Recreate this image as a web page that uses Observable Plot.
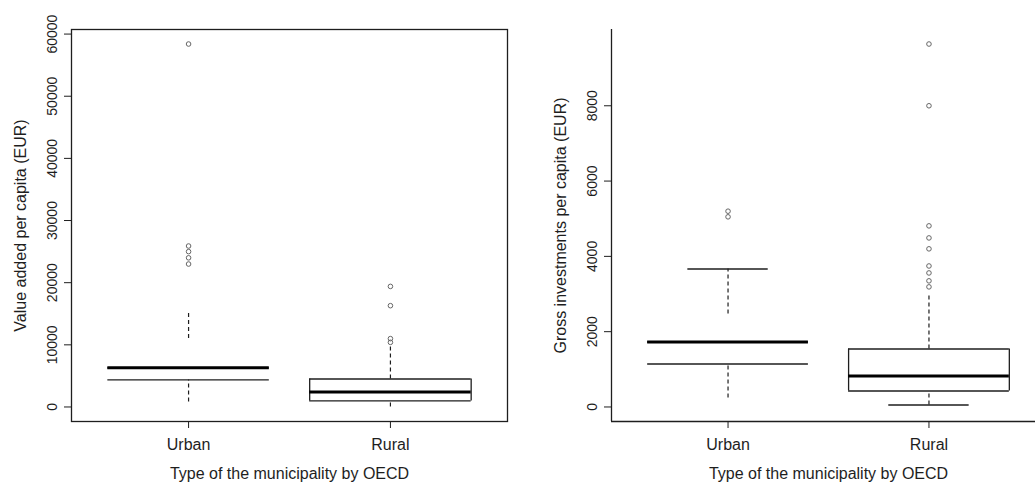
<!DOCTYPE html>
<html>
<head>
<meta charset="utf-8">
<script src="https://cdn.jsdelivr.net/npm/d3@7"></script>
<script src="https://cdn.jsdelivr.net/npm/@observablehq/plot@0.6"></script>
<style>
  html, body { margin: 0; padding: 0; background: #fff; overflow: hidden; }
  #wrap { position: relative; width: 1035px; height: 483px; overflow: hidden; background: #fff; }
  #left { position: absolute; left: 0; top: 0; width: 520px; }
  #right { position: absolute; left: 520px; top: 0; width: 525px; }
  svg { max-width: none !important; }
</style>
</head>
<body>
<div id="wrap"><div id="left"></div><div id="right"></div></div>
<script>
// ---------- shared ----------
const categories = ["Urban", "Rural"];
const xTitle = "Type of the municipality by OECD";

// ---------- panel 1: value added per capita ----------
const vaTitle = "Value added per capita (EUR)";
const vaTicks = [0, 10000, 20000, 30000, 40000, 50000, 60000];
const vaQ1 = [4350, 970];
const vaMedian = [6300, 2420];
const vaQ3 = [6300, 4500];
const vaWhiskerCat = ["Urban", "Urban", "Rural", "Rural"];
const vaWhiskerFrom = [800, 11000, 0, 4500];
const vaWhiskerTo = [4350, 15300, 970, 10000];
const vaCapCat = [];
const vaCapValue = [];
const vaOutlierCat = ["Urban", "Urban", "Urban", "Urban", "Urban", "Rural", "Rural", "Rural", "Rural"];
const vaOutlierValue = [58400, 25900, 25000, 24000, 23000, 19400, 16300, 11000, 10400];
const vaRange = [0, 58400];

// ---------- panel 2: gross investments per capita ----------
const giTitle = "Gross investments per capita (EUR)";
const giTicks = [0, 2000, 4000, 6000, 8000];
const giQ1 = [1142, 425];
const giMedian = [1726, 823];
const giQ3 = [1726, 1540];
const giWhiskerCat = ["Urban", "Urban", "Rural", "Rural"];
const giWhiskerFrom = [240, 2470, 53, 1540];
const giWhiskerTo = [1142, 3665, 425, 3000];
const giCapCat = ["Urban", "Rural"];
const giCapValue = [3665, 53];
const giOutlierCat = ["Urban", "Urban", "Rural", "Rural", "Rural", "Rural", "Rural", "Rural", "Rural", "Rural", "Rural"];
const giOutlierValue = [5200, 5050, 9640, 8000, 4810, 4490, 4200, 3745, 3560, 3350, 3190];
const giRange = [0, 9640];

const ink = "#1e1e1e";
const font = "'Liberation Sans', Arial, sans-serif";

function panel(o) {
  const pos = c => categories.indexOf(c) + 1;
  const pad = (o.range[1] - o.range[0]) * 0.04;
  const yDomain = [o.range[0] - pad, o.range[1] + pad];
  const xDomain = [0.42, 2.58];
  const boxes = categories.map((c, i) => ({c, x: i + 1, q1: o.q1[i], med: o.med[i], q3: o.q3[i]}));
  const whiskers = o.wCat.map((c, i) => ({x: pos(c), y1: o.wFrom[i], y2: o.wTo[i]}));
  const caps = o.capCat.map((c, i) => ({x: pos(c), y: o.capVal[i]}));
  const outliers = o.oCat.map((c, i) => ({x: pos(c), y: o.oVal[i]}));
  // the reference shows side edges only on the Rural box
  const sided = boxes.filter(d => d.c === "Rural");

  const marks = [
    Plot.ruleX(whiskers, {x: "x", y1: "y1", y2: "y2", stroke: ink, strokeWidth: 1.2, strokeDasharray: "4,3"}),
    Plot.ruleY(caps, {y: "y", x1: d => d.x - 0.2, x2: d => d.x + 0.2, stroke: ink, strokeWidth: 1.3}),
    Plot.ruleY(boxes, {y: "q1", x1: d => d.x - 0.4, x2: d => d.x + 0.4, stroke: ink, strokeWidth: 1.3}),
    Plot.ruleY(boxes, {y: "q3", x1: d => d.x - 0.4, x2: d => d.x + 0.4, stroke: ink, strokeWidth: 1.3}),
    Plot.ruleX(sided, {x: d => d.x - 0.4, y1: "q1", y2: "q3", stroke: ink, strokeWidth: 1.3}),
    Plot.ruleX(sided, {x: d => d.x + 0.4, y1: "q1", y2: "q3", stroke: ink, strokeWidth: 1.3}),
    Plot.ruleY(boxes, {y: "med", x1: d => d.x - 0.4, x2: d => d.x + 0.4, stroke: "#000", strokeWidth: 3}),
    Plot.dot(outliers, {x: "x", y: "y", r: 2.3, stroke: "#666", strokeWidth: 1, fill: "none"}),
    Plot.axisY({ticks: o.ticks, tickSize: 7, tickRotate: -90, tickPadding: 8, fontSize: 14, color: ink, label: null, tickFormat: d => String(d)}),
    Plot.axisX({ticks: [1, 2], tickSize: 7, tickPadding: 10, fontSize: 16, color: ink, label: null, tickFormat: d => categories[d - 1]}),
    Plot.text([o.title], {frameAnchor: "left", dx: -51, rotate: -90, textAnchor: "middle", lineAnchor: "middle", fontSize: 16, fill: ink}),
    Plot.text([xTitle], {frameAnchor: "bottom", dy: 52, textAnchor: "middle", lineAnchor: "middle", fontSize: 16, fill: ink})
  ];
  if (o.fullFrame) {
    marks.push(Plot.frame({stroke: ink, strokeWidth: 1.3}));
  } else {
    marks.push(Plot.ruleX([xDomain[0]], {stroke: ink, strokeWidth: 1.3}));
    marks.push(Plot.ruleY([yDomain[0]], {stroke: ink, strokeWidth: 1.3}));
  }
  return Plot.plot({
    width: o.width,
    height: 483,
    marginLeft: o.marginLeft,
    marginRight: o.marginRight,
    marginTop: 29,
    marginBottom: 62,
    style: {fontFamily: font, background: "#fff", overflow: "visible", maxWidth: "none"},
    x: {type: "linear", domain: xDomain, axis: null},
    y: {domain: yDomain, axis: null},
    marks
  });
}

document.getElementById("left").append(panel({
  title: vaTitle, ticks: vaTicks, q1: vaQ1, med: vaMedian, q3: vaQ3,
  wCat: vaWhiskerCat, wFrom: vaWhiskerFrom, wTo: vaWhiskerTo,
  capCat: vaCapCat, capVal: vaCapValue, oCat: vaOutlierCat, oVal: vaOutlierValue,
  range: vaRange, width: 520, marginLeft: 71, marginRight: 13, fullFrame: true
}));
document.getElementById("right").append(panel({
  title: giTitle, ticks: giTicks, q1: giQ1, med: giMedian, q3: giQ3,
  wCat: giWhiskerCat, wFrom: giWhiskerFrom, wTo: giWhiskerTo,
  capCat: giCapCat, capVal: giCapValue, oCat: giOutlierCat, oVal: giOutlierValue,
  range: giRange, width: 525, marginLeft: 91, marginRight: 0, fullFrame: false
}));
</script>
</body>
</html>
